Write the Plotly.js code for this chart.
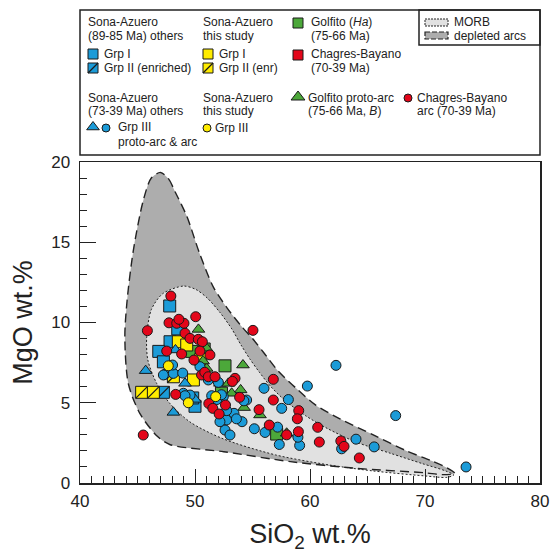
<!DOCTYPE html>
<html>
<head>
<meta charset="utf-8">
<script src="https://cdn.plot.ly/plotly-3.0.1.min.js"></script>
<style>html,body{margin:0;padding:0;background:#fff;}#chart{width:552px;height:553px;}</style>
</head>
<body>
<div id="chart"></div>
<script>
// ---------------- DATA ----------------
// Field outlines (SiO2, MgO)
var arcFieldSiO2 = [47.0,47.7,48.3,49.3,50.4,51.6,52.8,54.0,55.0,56.0,57.2,58.8,60.5,62.6,65.5,68.4,70.5,71.9,72.6,71.5,69.9,64.1,58.3,52.5,47.8,46.67,45.2,44.2,43.9,44.1,44.64,45.5,46.2,47.0];
var arcFieldMgO  = [19.35,18.95,18.1,16.6,14.3,12.2,10.9,9.8,9.0,8.1,7.0,5.9,4.85,4.0,3.0,2.0,1.4,0.95,0.6,0.52,0.64,0.91,1.33,1.95,2.4,2.95,4.34,6.2,9.1,11.4,14.5,17.6,19.0,19.35];
var morbFieldSiO2 = [49.0,50.1,51.1,52.2,53.2,54.0,54.8,55.6,56.6,57.9,59.6,61.5,64.0,67.0,69.8,71.8,72.5,71.9,69.85,65.5,61.7,57.0,52.46,49.57,47.8,46.67,45.9,45.8,46.2,47.2,49.0];
var morbFieldMgO  = [12.27,12.05,11.5,10.6,9.6,8.6,7.7,6.9,6.0,5.1,4.2,3.4,2.55,1.85,1.2,0.75,0.5,0.35,0.45,0.75,1.12,1.75,2.75,3.8,4.97,6.2,7.66,9.1,10.8,11.8,12.27];

// Sona-Azuero (89-85 Ma) others
var saGrp1SiO2 = [47.8,48.5,47.83,46.85,47.25,50.0,49.8];
var saGrp1MgO  = [11.03,9.6,8.8,8.2,7.55,4.78,5.3];
var saGrp2SiO2 = [47.25];
var saGrp2MgO  = [5.65];
// Sona-Azuero this study
var tsGrp1SiO2 = [48.55,49.28,49.86,50.5];
var tsGrp1MgO  = [8.8,8.6,6.42,7.7];
var tsGrp2SiO2 = [45.36,46.38,48.12];
var tsGrp2MgO  = [5.65,5.65,6.62];
// Golfito (Ha)
var golfHaSiO2 = [52.61,49.71,52.3,57.1,50.8];
var golfHaMgO  = [7.3,8.2,5.6,3.05,8.35];
// Chagres-Bayano (70-39 Ma) squares
var cbSqSiO2 = [];
var cbSqMgO  = [];
// Sona-Azuero (73-39 Ma) others, Grp III
var saG3TriSiO2 = [45.71,48.12,49.13,50.0,48.3];
var saG3TriMgO  = [7.0,4.4,6.21,5.21,8.29];
var saG3CirSiO2 = [62.26,59.77,67.45,73.57,56.0,58.12,57.54,64.0,65.58,62.75,57.33,59.1,58.95,57.18,56.09,55.16,54.09,54.49,54.25,52.75,52.61,53.04,52.17,53.39,52.46,51.45,52.75,52.03,51.16,47.39,47.25,48.12,48.93,48.99,49.57,49.13,50.43,48.05,53.6,51.9,52.3];
var saG3CirMgO  = [7.33,6.04,4.2,1.0,5.9,5.2,4.65,2.73,2.25,2.13,2.4,2.34,2.85,3.48,3.15,3.38,3.82,5.17,5.12,3.93,3.3,2.99,3.82,4.34,5.38,5.44,4.51,6.27,6.42,6.77,6.73,6.83,6.85,5.59,5.48,5.44,7.25,7.35,4.0,5.2,5.5];
// Sona-Azuero this study, Grp III
var tsG3SiO2 = [47.68,49.42,51.8];
var tsG3MgO  = [7.3,5.0,5.38];
// Golfito proto-arc (B)
var golfBSiO2 = [50.3,54.17,51.01,52.17,52.9,53.97,54.27,55.65,57.97,53.19,51.0,50.7];
var golfBMgO  = [9.57,7.35,7.14,6.21,6.21,5.8,4.7,4.24,3.1,5.59,8.4,7.6];
// Chagres-Bayano arc (70-39 Ma)
var cbArcSiO2 = [47.9,45.86,50.06,47.74,48.41,49.04,48.6,55.04,49.13,49.57,50.29,50.64,47.54,48.84,50.43,51.3,49.91,48.32,50.57,50.85,51.16,51.74,53.48,53.25,53.88,51.2,51.55,52.65,52.1,55.57,56.81,56.81,59.02,58.9,56.46,57.97,58.99,60.67,60.81,62.68,62.96,64.29,45.5];
var cbArcMgO  = [11.65,9.49,10.36,9.98,9.95,9.95,10.2,9.51,9.33,9.01,8.95,8.8,8.22,8.04,8.22,7.98,7.66,5.52,6.73,6.9,6.62,6.62,6.52,6.33,5.34,4.95,4.65,4.86,4.3,4.57,6.46,5.17,4.51,4.0,3.61,3.0,3.2,3.47,2.55,2.62,2.28,1.56,2.99];

var xTicks = [40,50,60,70,80];
var yTicks = [0,5,10,15,20];

// ---------------- STYLE ----------------
var W = 552, H = 553;
var PL = 80, PR = 540, PT = 162, PB = 483;
var BLUE = '#1b9bd8', RED = '#e3061a', YEL = '#ffec00', GRN = '#4ca83a';
var DARK = '#adadad', LIGHT = '#e1e1e1', EDGE = '#1a1a1a';
var FONT = 'Liberation Sans, Arial, sans-serif';

function pts(x, y, sym, color, size) {
  return {type:'scatter', mode:'markers', x:x, y:y, hoverinfo:'skip',
    marker:{symbol:sym, color:color, size:size, line:{color:EDGE, width:1}}};
}
function diag(x, y, size, xa, ya) {
  var t = {type:'scatter', mode:'markers', x:x, y:y, hoverinfo:'skip',
    marker:{symbol:'line-ne', size:size, color:EDGE, line:{color:EDGE, width:1.2}}};
  if (xa) { t.xaxis = xa; t.yaxis = ya; }
  return t;
}

var traces = [];
// depleted arcs fill
traces.push({type:'scatter', mode:'lines', x:arcFieldSiO2, y:arcFieldMgO, fill:'toself', fillcolor:DARK,
  line:{width:0, shape:'spline', smoothing:0.8, color:DARK}, hoverinfo:'skip'});
// MORB fill + dotted outline
traces.push({type:'scatter', mode:'lines', x:morbFieldSiO2, y:morbFieldMgO, fill:'toself', fillcolor:LIGHT,
  line:{width:1, shape:'spline', smoothing:0.8, color:'#222', dash:'2px,2px'}, hoverinfo:'skip'});
// depleted arcs dashed outline on top
traces.push({type:'scatter', mode:'lines', x:arcFieldSiO2, y:arcFieldMgO,
  line:{width:1.4, shape:'spline', smoothing:0.8, color:'#222', dash:'9px,5px'}, hoverinfo:'skip'});

var SQ = 12, CI = 10, TR = 11;
traces.push(pts(saGrp1SiO2, saGrp1MgO, 'square', BLUE, SQ));
traces.push(pts(saGrp2SiO2, saGrp2MgO, 'square', BLUE, SQ));
traces.push(diag(saGrp2SiO2, saGrp2MgO, SQ));
traces.push(pts(golfHaSiO2, golfHaMgO, 'square', GRN, SQ));
if (cbSqSiO2.length) traces.push(pts(cbSqSiO2, cbSqMgO, 'square', RED, SQ));
traces.push(pts(tsGrp1SiO2, tsGrp1MgO, 'square', YEL, SQ));
traces.push(pts(tsGrp2SiO2, tsGrp2MgO, 'square', YEL, SQ));
traces.push(diag(tsGrp2SiO2, tsGrp2MgO, SQ));
traces.push(pts(saG3TriSiO2, saG3TriMgO, 'triangle-up', BLUE, TR));
traces.push(pts(golfBSiO2, golfBMgO, 'triangle-up', GRN, TR));
traces.push(pts(saG3CirSiO2, saG3CirMgO, 'circle', BLUE, CI));
traces.push(pts(cbArcSiO2, cbArcMgO, 'circle', RED, CI));
traces.push(pts(tsG3SiO2, tsG3MgO, 'circle', YEL, CI));

// ---------------- LEGEND (pixel overlay axes x2/y2) ----------------
function lg(x, y, sym, color, size) {
  var t = pts([x], [y], sym, color, size);
  t.xaxis = 'x2'; t.yaxis = 'y2';
  return t;
}
traces.push(lg(93, 54, 'square', BLUE, 10));
traces.push(lg(93, 68, 'square', BLUE, 10));
traces.push(diag([93], [68], 10, 'x2', 'y2'));
traces.push(lg(208, 54, 'square', YEL, 10));
traces.push(lg(208, 68, 'square', YEL, 10));
traces.push(diag([208], [68], 10, 'x2', 'y2'));
traces.push(lg(298, 23, 'square', GRN, 10));
traces.push(lg(298, 55, 'square', RED, 10));
traces.push(lg(93, 127, 'triangle-up', BLUE, 11));
traces.push(lg(106, 128, 'circle', BLUE, 8));
traces.push(lg(207, 128, 'circle', YEL, 8));
traces.push(lg(298, 97, 'triangle-up', GRN, 12));
traces.push(lg(408, 98, 'circle', RED, 8));

var ann = [];
function txt(x, y, s) {
  ann.push({xref:'x2', yref:'y2', x:x, y:y, text:s, showarrow:false, xanchor:'left', yanchor:'middle',
    font:{family:FONT, size:12, color:'#222'}});
}
txt(86, 22, 'Sona-Azuero'); txt(86, 36, '(89-85 Ma) others');
txt(102, 54, 'Grp I'); txt(102, 68, 'Grp II (enriched)');
txt(201, 22, 'Sona-Azuero'); txt(201, 36, 'this study');
txt(217, 54, 'Grp I'); txt(217, 68, 'Grp II (enr)');
txt(309, 22, 'Golfito (<i>Ha</i>)'); txt(309, 36, '(75-66 Ma)');
txt(309, 54, 'Chagres-Bayano'); txt(309, 68, '(70-39 Ma)');
txt(452, 22, 'MORB'); txt(452, 36, 'depleted arcs');
txt(86, 98, 'Sona-Azuero'); txt(86, 111, '(73-39 Ma) others');
txt(116, 127, 'Grp III'); txt(116, 142, 'proto-arc &amp; arc');
txt(201, 98, 'Sona-Azuero'); txt(201, 111, 'this study');
txt(213, 128, 'Grp III');
txt(306, 98, 'Golfito proto-arc'); txt(306, 111, '(75-66 Ma, <i>B</i>)');
txt(415, 98, 'Chagres-Bayano'); txt(415, 111, 'arc (70-39 Ma)');

var shapes = [
  {type:'rect', xref:'x2', yref:'y2', x0:80, x1:540, y0:10, y1:155, line:{color:'#222', width:1.5}, fillcolor:'rgba(0,0,0,0)'},
  {type:'rect', xref:'x2', yref:'y2', x0:419, x1:540, y0:10, y1:45, line:{color:'#222', width:1.5}, fillcolor:'rgba(0,0,0,0)'},
  {type:'rect', xref:'x2', yref:'y2', x0:425, x1:448, y0:19, y1:26, line:{color:'#222', width:1, dash:'2px,1px'}, fillcolor:LIGHT},
  {type:'rect', xref:'x2', yref:'y2', x0:425, x1:448, y0:32, y1:39, line:{color:'#222', width:1.2, dash:'5px,2px'}, fillcolor:DARK}
];

var axFont = {family:FONT, size:17, color:'#222'};
var layout = {
  width:W, height:H, margin:{l:0, r:0, t:0, b:0},
  paper_bgcolor:'#fff', plot_bgcolor:'rgba(0,0,0,0)', showlegend:false,
  font:{family:FONT, color:'#222'},
  xaxis:{domain:[PL/W, PR/W], range:[40,80], tickvals:xTicks, ticktext:xTicks.map(String),
    ticks:'inside', ticklen:14, tickwidth:1, tickcolor:'#222', ticklabelstandoff:2,
    minor:{dtick:1, ticks:'inside', ticklen:7, tickwidth:1, tickcolor:'#222'},
    showline:true, linecolor:'#222', linewidth:1.5, mirror:true, showgrid:false, zeroline:false,
    tickfont:axFont, title:{text:'SiO<sub>2</sub> wt.%', font:{family:FONT, size:27, color:'#222'}, standoff:20}},
  yaxis:{domain:[1-PB/H, 1-PT/H], range:[0,20], tickvals:yTicks, ticktext:yTicks.map(String),
    ticks:'inside', ticklen:16, tickwidth:1, tickcolor:'#222', ticklabelstandoff:5,
    minor:{dtick:1, ticks:'inside', ticklen:7, tickwidth:1, tickcolor:'#222'},
    showline:true, linecolor:'#222', linewidth:1.5, mirror:true, showgrid:false, zeroline:false,
    tickfont:axFont, title:{text:'MgO wt.%', font:{family:FONT, size:27, color:'#222'}, standoff:10}},
  xaxis2:{domain:[0,1], range:[0,W], visible:false, anchor:'y2', fixedrange:true},
  yaxis2:{domain:[0,1], range:[H,0], visible:false, anchor:'x2', fixedrange:true},
  shapes:shapes, annotations:ann
};

Plotly.newPlot('chart', traces, layout, {staticPlot:true, displayModeBar:false});
</script>
</body>
</html>
